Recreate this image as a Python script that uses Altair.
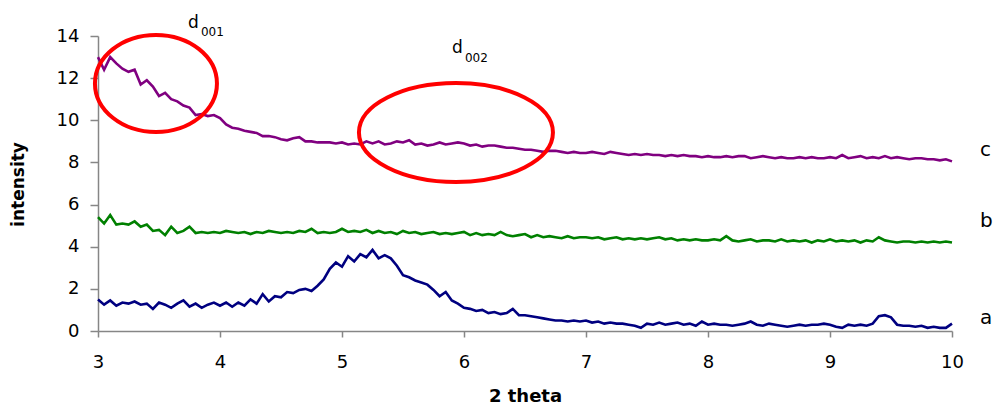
import altair as alt
import pandas as pd

# ---------------- data ----------------
X_START = 3.0
X_STEP = 0.05

series_a = [
    1.50, 1.25, 1.45, 1.20, 1.35, 1.30, 1.40, 1.25, 1.30, 1.05, 1.35, 1.25, 1.10, 1.30, 1.45, 1.15, 1.30, 1.10, 1.25, 1.35,
    1.20, 1.35, 1.15, 1.35, 1.20, 1.50, 1.30, 1.75, 1.40, 1.65, 1.60, 1.85, 1.80, 1.95, 2.00, 1.90, 2.15, 2.45, 2.95, 3.25,
    3.05, 3.55, 3.30, 3.65, 3.50, 3.85, 3.45, 3.60, 3.45, 3.10, 2.65, 2.55, 2.40, 2.30, 2.20, 1.95, 1.65, 1.85, 1.45, 1.30,
    1.10, 1.05, 0.95, 1.00, 0.85, 0.90, 0.80, 0.85, 1.05, 0.75, 0.75, 0.70, 0.65, 0.60, 0.55, 0.50, 0.50, 0.45, 0.50, 0.45,
    0.50, 0.40, 0.45, 0.35, 0.40, 0.35, 0.35, 0.30, 0.25, 0.15, 0.35, 0.30, 0.40, 0.30, 0.35, 0.40, 0.30, 0.35, 0.25, 0.45,
    0.30, 0.35, 0.30, 0.30, 0.25, 0.30, 0.35, 0.45, 0.30, 0.25, 0.35, 0.30, 0.25, 0.20, 0.25, 0.30, 0.25, 0.30, 0.30, 0.35,
    0.30, 0.20, 0.15, 0.30, 0.25, 0.30, 0.25, 0.35, 0.70, 0.75, 0.65, 0.30, 0.25, 0.25, 0.20, 0.25, 0.15, 0.20, 0.15, 0.15,
    0.35,
]

series_b = [
    5.40, 5.10, 5.50, 5.05, 5.10, 5.05, 5.20, 4.95, 5.05, 4.75, 4.80, 4.55, 4.95, 4.65, 4.75, 4.95, 4.65, 4.70, 4.65, 4.70,
    4.65, 4.75, 4.70, 4.65, 4.70, 4.60, 4.70, 4.65, 4.75, 4.70, 4.65, 4.70, 4.65, 4.75, 4.70, 4.85, 4.65, 4.70, 4.65, 4.70,
    4.85, 4.70, 4.75, 4.70, 4.80, 4.65, 4.75, 4.65, 4.70, 4.60, 4.75, 4.65, 4.70, 4.60, 4.65, 4.70, 4.60, 4.65, 4.60, 4.65,
    4.70, 4.55, 4.65, 4.55, 4.60, 4.55, 4.70, 4.55, 4.50, 4.55, 4.60, 4.45, 4.55, 4.45, 4.50, 4.45, 4.40, 4.50, 4.40, 4.45,
    4.45, 4.40, 4.45, 4.35, 4.40, 4.45, 4.35, 4.40, 4.35, 4.40, 4.35, 4.40, 4.45, 4.35, 4.40, 4.30, 4.35, 4.30, 4.35, 4.30,
    4.30, 4.35, 4.30, 4.50, 4.30, 4.25, 4.30, 4.35, 4.25, 4.30, 4.30, 4.25, 4.35, 4.25, 4.30, 4.25, 4.30, 4.20, 4.30, 4.25,
    4.35, 4.25, 4.30, 4.25, 4.30, 4.20, 4.30, 4.25, 4.45, 4.30, 4.25, 4.20, 4.25, 4.25, 4.20, 4.25, 4.20, 4.25, 4.20, 4.25,
    4.20,
]

series_c = [
    13.00, 12.40, 13.00, 12.70, 12.45, 12.30, 12.40, 11.70, 11.90, 11.60, 11.15, 11.30, 11.00, 10.90, 10.70, 10.60, 10.25, 10.30, 10.20, 10.25,
    10.10, 9.80, 9.65, 9.60, 9.50, 9.45, 9.40, 9.25, 9.25, 9.20, 9.10, 9.05, 9.15, 9.20, 9.00, 9.00, 8.95, 8.95, 8.95, 8.90,
    8.95, 8.85, 8.90, 8.85, 9.00, 8.90, 9.00, 8.85, 8.90, 9.00, 8.95, 9.05, 8.85, 8.90, 8.80, 8.85, 8.95, 8.85, 8.90, 8.95,
    8.90, 8.80, 8.85, 8.75, 8.80, 8.80, 8.75, 8.70, 8.70, 8.65, 8.60, 8.60, 8.55, 8.50, 8.55, 8.55, 8.50, 8.45, 8.50, 8.45,
    8.45, 8.50, 8.45, 8.40, 8.50, 8.45, 8.40, 8.35, 8.40, 8.35, 8.40, 8.35, 8.35, 8.30, 8.35, 8.30, 8.35, 8.30, 8.30, 8.25,
    8.30, 8.25, 8.25, 8.30, 8.25, 8.30, 8.30, 8.20, 8.25, 8.30, 8.25, 8.20, 8.25, 8.20, 8.20, 8.25, 8.20, 8.25, 8.20, 8.20,
    8.25, 8.20, 8.35, 8.20, 8.25, 8.30, 8.20, 8.25, 8.20, 8.30, 8.20, 8.25, 8.20, 8.15, 8.20, 8.20, 8.15, 8.15, 8.10, 8.15,
    8.05,
]

sample_names = ["a", "b", "c"]
sample_colors = ["#000080", "#008000", "#800080"]

x_ticks = [3, 4, 5, 6, 7, 8, 9, 10]
y_ticks = [0, 2, 4, 6, 8, 10, 12, 14]

# annotation ellipses: centre (theta, intensity), half-width in px, aspect ratio
ell_theta = [3.475, 5.934]
ell_intensity = [11.75, 9.42]
ell_halfwidth_px = [61, 97]
ell_ratio = [0.795, 0.51]

# d-spacing labels (main letter + subscript)
d_text = ["d", "001", "d", "002"]
d_theta = [3.738, 3.844, 5.902, 6.008]
d_intensity = [14.38, 13.99, 13.19, 12.77]
d_size = [17, 12, 17, 12]

# curve labels on the right
lab_text = ["c", "b", "a"]
lab_theta = [10.23, 10.23, 10.23]
lab_intensity = [8.59, 5.22, 0.62]

# ---------------- build tables ----------------
x_vals = [round(X_START + X_STEP * i, 2) for i in range(len(series_a))]
rows = []
for name, vals in zip(sample_names, [series_a, series_b, series_c]):
    for x, y in zip(x_vals, vals):
        rows.append({"theta": x, "intensity": y, "sample": name})
df = pd.DataFrame(rows)

FONT = "DejaVu Sans"
AXIS_GREY = "#868686"

x_scale = alt.Scale(domain=[3, 10], nice=False, zero=False)
y_scale = alt.Scale(domain=[0, 14], nice=False, zero=True)

lines = alt.Chart(df).mark_line(strokeWidth=2.6, clip=False).encode(
    x=alt.X(
        "theta:Q", scale=x_scale, title="2 theta",
        axis=alt.Axis(
            values=x_ticks, format="d", grid=False, tickSize=6, labelPadding=16,
            labelFontSize=18, labelFont=FONT, labelColor="black", labelFlush=False,
            domainColor=AXIS_GREY, tickColor=AXIS_GREY, domainWidth=1.5, tickWidth=1.5,
            titleFont=FONT, titleFontSize=18, titleFontWeight="bold", titleColor="black",
            titleBaseline="alphabetic", titleY=70, titleX=427,
        ),
    ),
    y=alt.Y(
        "intensity:Q", scale=y_scale, title="intensity",
        axis=alt.Axis(
            values=y_ticks, format="d", grid=False, tickSize=8, labelPadding=11,
            labelFontSize=18, labelFont=FONT, labelColor="black",
            domainColor=AXIS_GREY, tickColor=AXIS_GREY, domainWidth=1.5, tickWidth=1.5,
            titleFont=FONT, titleFontSize=17, titleFontWeight="bold", titleColor="black",
            titleAngle=-90, titleBaseline="middle", titleX=-80, titleY=148,
        ),
    ),
    color=alt.Color(
        "sample:N",
        scale=alt.Scale(domain=sample_names, range=sample_colors),
        legend=None,
    ),
)


def ellipse_path(r):
    k = 0.5523
    return (
        f"M -1,0 C -1,{-k*r:.4f} {-k:.4f},{-r:.4f} 0,{-r:.4f} "
        f"C {k:.4f},{-r:.4f} 1,{-k*r:.4f} 1,0 "
        f"C 1,{k*r:.4f} {k:.4f},{r:.4f} 0,{r:.4f} "
        f"C {-k:.4f},{r:.4f} -1,{k*r:.4f} -1,0 Z"
    )


ellipses = []
for i in range(len(ell_theta)):
    edf = pd.DataFrame({"theta": [ell_theta[i]], "intensity": [ell_intensity[i]]})
    ellipses.append(
        alt.Chart(edf).mark_point(
            shape=ellipse_path(ell_ratio[i]),
            size=(2 * ell_halfwidth_px[i]) ** 2,
            filled=False, stroke="#ff0000", strokeWidth=4, opacity=1, clip=False,
        ).encode(x="theta:Q", y="intensity:Q")
    )

ddf = pd.DataFrame({"theta": d_theta, "intensity": d_intensity, "txt": d_text, "fs": d_size})
d_labels = alt.Chart(ddf).mark_text(
    align="left", baseline="alphabetic", font=FONT, color="black", clip=False
).encode(
    x="theta:Q", y="intensity:Q", text="txt:N", size=alt.Size("fs:Q", scale=None, legend=None)
)

ldf = pd.DataFrame({"theta": lab_theta, "intensity": lab_intensity, "txt": lab_text})
curve_labels = alt.Chart(ldf).mark_text(
    align="left", baseline="middle", font=FONT, fontSize=20, color="black", clip=False
).encode(x="theta:Q", y="intensity:Q", text="txt:N")

chart = alt.layer(lines, *ellipses, d_labels, curve_labels).properties(
    width=854,
    height=295,
    autosize=alt.AutoSizeParams(type="none"),
    padding={"left": 98, "top": 36, "right": 44, "bottom": 74},
    background="white",
).configure_view(stroke=None)

chart.save("out.html", embed_options={"renderer": "svg", "actions": False})
